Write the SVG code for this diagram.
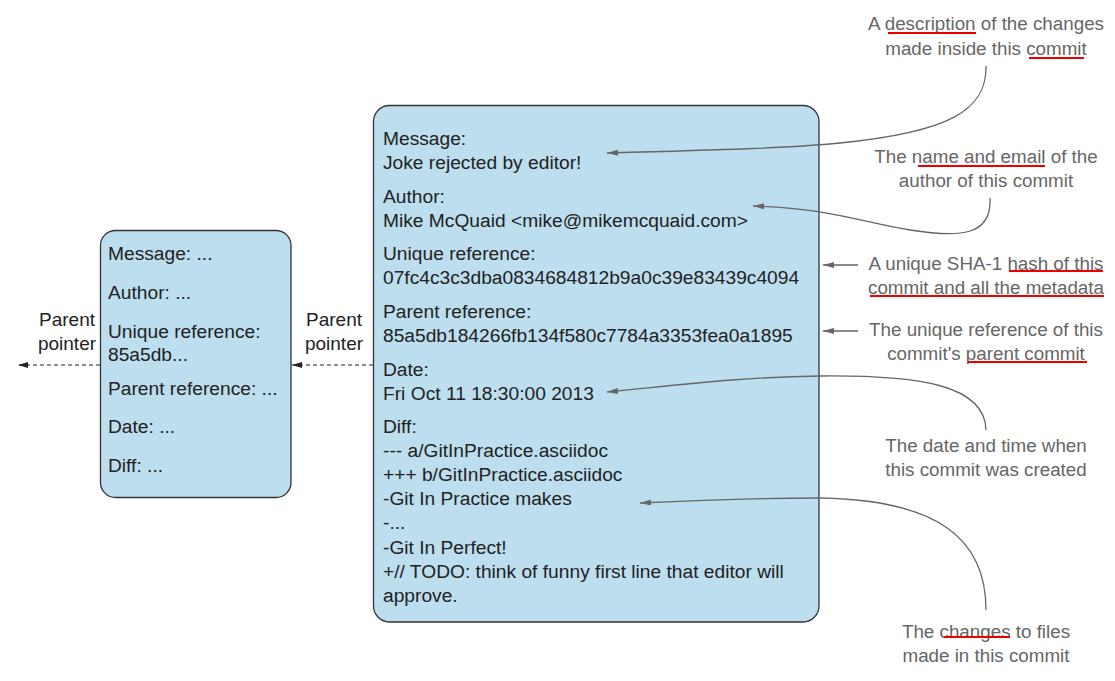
<svg xmlns="http://www.w3.org/2000/svg" width="1115" height="681" viewBox="0 0 1115 681">
<style>
.box{fill:#bcdeee;stroke:#333;stroke-width:1.3}
.t{font-family:"Liberation Sans",Arial,sans-serif;font-size:19.2px;fill:#222}
.a{font-family:"Liberation Sans",Arial,sans-serif;font-size:18.8px;fill:#666;text-anchor:middle}
.p{font-family:"Liberation Sans",Arial,sans-serif;font-size:19px;fill:#222;text-anchor:middle}
.c{fill:none;stroke:#666;stroke-width:1.3}
.d{fill:none;stroke:#222;stroke-width:1.2;stroke-dasharray:4 3}
.u{stroke:#e00;stroke-width:2}
</style>
<defs>
<marker id="ag" viewBox="0 0 11 6" refX="11" refY="3" markerWidth="11" markerHeight="6" markerUnits="userSpaceOnUse" orient="auto-start-reverse">
<path d="M0,0 L11,3 L0,6 z" fill="#666"/>
</marker>
<marker id="ab" viewBox="0 0 10 6" refX="10" refY="3" markerWidth="10" markerHeight="6" markerUnits="userSpaceOnUse" orient="auto-start-reverse">
<path d="M0,0 L10,3 L0,6 z" fill="#222"/>
</marker>
</defs>

<g id="parent-commit">
<rect class="box" x="100.5" y="230.5" width="190.5" height="267" rx="15"/>
<text class="t" x="108" y="260">Message: ...</text>
<text class="t" x="108" y="299">Author: ...</text>
<text class="t" x="108" y="338">Unique reference:</text>
<text class="t" x="108" y="361">85a5db...</text>
<text class="t" x="108" y="395">Parent reference: ...</text>
<text class="t" x="108" y="433">Date: ...</text>
<text class="t" x="108" y="472">Diff: ...</text>
</g>

<g id="commit">
<rect class="box" x="373.5" y="105.5" width="445.5" height="516.5" rx="16"/>
<text class="t" x="383" y="145">Message:</text>
<text class="t" x="383" y="169">Joke rejected by editor!</text>
<text class="t" x="383" y="203">Author:</text>
<text class="t" x="383" y="227">Mike McQuaid &lt;mike@mikemcquaid.com&gt;</text>
<text class="t" x="383" y="260">Unique reference:</text>
<text class="t" x="383" y="284">07fc4c3c3dba0834684812b9a0c39e83439c4094</text>
<text class="t" x="383" y="318">Parent reference:</text>
<text class="t" x="383" y="342">85a5db184266fb134f580c7784a3353fea0a1895</text>
<text class="t" x="383" y="376">Date:</text>
<text class="t" x="383" y="400">Fri Oct 11 18:30:00 2013</text>
<text class="t" x="383" y="433">Diff:</text>
<text class="t" x="383" y="457">--- a/GitInPractice.asciidoc</text>
<text class="t" x="383" y="481">+++ b/GitInPractice.asciidoc</text>
<text class="t" x="383" y="505">-Git In Practice makes</text>
<text class="t" x="383" y="529">-...</text>
<text class="t" x="383" y="554">-Git In Perfect!</text>
<text class="t" x="383" y="578">+// TODO: think of funny first line that editor will</text>
<text class="t" x="383" y="602">approve.</text>
</g>

<g id="label-parent-pointer-1">
<text class="p" x="334" y="326">Parent</text>
<text class="p" x="334" y="350">pointer</text>
</g>
<g id="label-parent-pointer-2">
<text class="p" x="67" y="326">Parent</text>
<text class="p" x="67" y="350">pointer</text>
</g>

<g id="note-message">
<text class="a" x="986" y="30">A description of the changes</text>
<text class="a" x="986" y="55">made inside this commit</text>
<line class="u" x1="888" y1="33" x2="976" y2="33"/>
<line class="u" x1="1029" y1="58" x2="1084" y2="58"/>
</g>
<g id="note-author">
<text class="a" x="986" y="163">The name and email of the</text>
<text class="a" x="986" y="187">author of this commit</text>
<line class="u" x1="918" y1="166" x2="1045" y2="166"/>
</g>
<g id="note-hash">
<text class="a" x="986" y="270">A unique SHA-1 hash of this</text>
<text class="a" x="986" y="294">commit and all the metadata</text>
<line class="u" x1="1009" y1="271" x2="1103" y2="271"/>
<line class="u" x1="870" y1="296" x2="1104" y2="296"/>
</g>
<g id="note-parent">
<text class="a" x="986" y="336">The unique reference of this</text>
<text class="a" x="986" y="360">commit's parent commit</text>
<line class="u" x1="968" y1="362" x2="1087" y2="362"/>
</g>
<g id="note-date">
<text class="a" x="986" y="452">The date and time when</text>
<text class="a" x="986" y="476">this commit was created</text>
</g>
<g id="note-diff">
<text class="a" x="986" y="638">The changes to files</text>
<text class="a" x="986" y="662">made in this commit</text>
<line class="u" x1="944" y1="637" x2="1010" y2="637"/>
</g>

<g id="connectors">
<path class="d" d="M373,365 L292,365" marker-end="url(#ab)"/>
<path class="d" d="M100,365 L18,365" marker-end="url(#ab)"/>
<path class="c" d="M607,153 C720,150 790,148 840,143 C950,132 987,110 986,66" marker-start="url(#ag)"/>
<path class="c" d="M753,206 C830,208 860,222 910,230 C960,238 992,236 990,198" marker-start="url(#ag)"/>
<path class="c" d="M823,265 L858,265" marker-start="url(#ag)"/>
<path class="c" d="M823,331 L858,331" marker-start="url(#ag)"/>
<path class="c" d="M607,392 C680,385 740,377 820,376 C920,375 985,385 986,430" marker-start="url(#ag)"/>
<path class="c" d="M640,503 C680,501 740,498 820,498 C940,500 986,540 986,610" marker-start="url(#ag)"/>
</g>
</svg>
